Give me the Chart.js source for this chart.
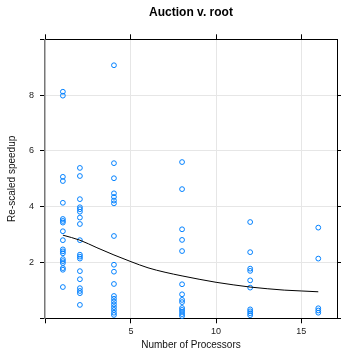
<!DOCTYPE html>
<html>
<head>
<meta charset="utf-8">
<script src="https://cdn.jsdelivr.net/npm/chart.js@4"></script>
<style>
  body { margin: 0; background: #fff; }
  #wrap { width: 342px; height: 351px; position: relative; }
</style>
</head>
<body>
<div id="wrap"><canvas id="speedChart"></canvas></div>
<script>
// processors on the x axis, speedup readings for each
const procs = [1, 2, 4, 8, 12, 16];
const speed1 = [8.12, 7.98, 5.07, 4.92, 4.14, 3.56, 3.49, 3.43, 3.12, 2.80, 2.47, 2.40, 2.33, 2.12, 2.05, 1.98, 1.80, 1.74, 1.12];
const speed2 = [5.39, 5.10, 4.27, 3.98, 3.91, 3.82, 3.61, 3.38, 2.80, 2.28, 2.21, 2.14, 1.69, 1.40, 1.08, 0.98, 0.90, 0.48];
const speed4 = [9.07, 5.56, 5.02, 4.48, 4.35, 4.22, 4.12, 2.95, 1.92, 1.67, 1.23, 0.80, 0.70, 0.60, 0.50, 0.40, 0.30, 0.20, 0.12];
const speed8 = [5.60, 4.63, 3.19, 2.81, 2.41, 1.22, 0.86, 0.66, 0.58, 0.37, 0.30, 0.23, 0.15, 0.08];
const speed12 = [3.45, 2.37, 1.78, 1.70, 1.36, 1.10, 0.32, 0.25, 0.18, 0.11];
const speed16 = [3.25, 2.14, 0.36, 0.28, 0.20];
const speedByProc = [speed1, speed2, speed4, speed8, speed12, speed16];

// smooth trend line
const fitX = [1, 2, 3, 4, 5, 6, 7, 8, 9, 10, 11, 12, 13, 14, 15, 16];
const fitY = [2.98, 2.80, 2.53, 2.27, 2.03, 1.81, 1.65, 1.52, 1.40, 1.29, 1.20, 1.12, 1.06, 1.01, 0.98, 0.95];

const xTicks = [0, 5, 10, 15];
const yTicks = [0, 2, 4, 6, 8, 10];
const yTicksRight = [0, 2, 4, 6, 8];

const points = [];
procs.forEach((p, i) => speedByProc[i].forEach(v => points.push({x: p, y: v})));
const fit = fitX.map((x, i) => ({x: x, y: fitY[i]}));

const FONT = 'Liberation Sans, Arial, Helvetica, sans-serif';
const GRID = '#e6e6e6';
const setTicks = list => scale => { scale.ticks = list.map(v => ({value: v})); };
const gridColor = c => (c.tick && (c.tick.value === 0)) ? 'rgba(0,0,0,0)' : GRID;

new Chart(document.getElementById('speedChart'), {
  type: 'scatter',
  data: {
    datasets: [
      {
        type: 'line',
        data: fit,
        borderColor: '#000',
        borderWidth: 1,
        pointRadius: 0,
        cubicInterpolationMode: 'monotone',
        fill: false,
        clip: false
      },
      {
        data: points,
        pointStyle: 'circle',
        pointRadius: 2.4,
        borderWidth: 1,
        borderColor: '#0080ff',
        backgroundColor: 'rgba(0,0,0,0)',
        clip: false
      }
    ]
  },
  options: {
    responsive: true,
    maintainAspectRatio: false,
    animation: false,
    layout: { padding: 0 },
    plugins: { legend: { display: false }, tooltip: { enabled: false } },
    scales: {
      x: {
        type: 'linear', position: 'bottom', min: -0.05, max: 17.1,
        afterBuildTicks: setTicks(xTicks),
        afterFit: s => { s.height = 32.7; },
        grid: { color: gridColor, tickColor: '#000', tickLength: 5 },
        border: { color: '#000', width: 1 },
        ticks: { font: { family: FONT, size: 9 }, color: '#222', padding: 3,
                 callback: v => v === 0 ? '' : v },
        title: { display: true, text: 'Number of Processors', color: '#111',
                 font: { family: FONT, size: 10, lineHeight: 1 }, padding: { top: 0, bottom: 1 } }
      },
      x2: {
        type: 'linear', position: 'top', min: -0.05, max: 17.1,
        afterBuildTicks: setTicks(xTicks),
        afterFit: s => { s.height = 39.3; },
        grid: { drawOnChartArea: false, tickColor: '#000', tickLength: 5 },
        border: { color: '#000', width: 1 },
        ticks: { display: false },
        title: { display: true, text: 'Auction v. root', color: '#000',
                 font: { family: FONT, size: 12, weight: 'bold', lineHeight: 1.2 }, padding: { top: 5, bottom: 0 } }
      },
      y: {
        type: 'linear', position: 'left', min: 0, max: 10,
        afterBuildTicks: setTicks(yTicks),
        afterFit: s => { s.width = 45; },
        grid: { color: GRID, tickColor: '#000', tickLength: 5 },
        border: { color: '#777', width: 1.5 },
        ticks: { font: { family: FONT, size: 9 }, color: '#222', padding: 6,
                 callback: v => (v === 0 || v === 10) ? '' : v },
        title: { display: true, text: 'Re-scaled speedup', color: '#111',
                 font: { family: FONT, size: 10, lineHeight: 1 }, padding: { top: 7.5, bottom: 0 } }
      },
      y2: {
        type: 'linear', position: 'right', min: 0, max: 10,
        afterBuildTicks: setTicks(yTicksRight),
        afterFit: s => { s.width = 3.3; },
        grid: { drawOnChartArea: false, tickColor: '#000', tickLength: 4 },
        border: { color: '#000', width: 1 },
        ticks: { display: false }
      }
    }
  }
});
</script>
</body>
</html>
